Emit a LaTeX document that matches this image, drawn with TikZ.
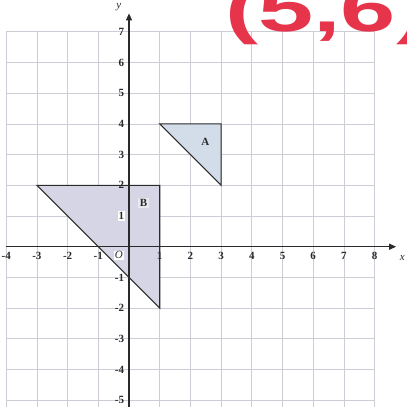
\documentclass[tikz,border=0pt]{standalone}
\usepackage{fontspec}
\setmainfont{Liberation Serif}
\newfontfamily\handfont{Liberation Sans}
\usetikzlibrary{arrows.meta}
\definecolor{gridc}{HTML}{CDCDD6}
\definecolor{fillA}{HTML}{D3DCE9}
\definecolor{fillB}{HTML}{D5D5E5}
\definecolor{inkred}{HTML}{E6344B}
\definecolor{axisc}{HTML}{2A2A2A}
\tikzset{
  gridline/.style={gridc, line width=0.7pt},
  axisline/.style={axisc, line width=1.3pt, -{Triangle[length=7pt,width=6pt]}},
  tri/.style={draw=axisc, line width=1.1pt, line join=miter},
  ticklab/.style={font=\fontsize{11}{12}\selectfont\bfseries, text=axisc, inner sep=1pt},
  shapelab/.style={font=\fontsize{11}{12}\selectfont\bfseries, text=axisc, inner sep=1.5pt},
}
\begin{document}
\begin{tikzpicture}[x=30.7pt,y=30.7pt]
\useasboundingbox (-4.202,-5.221) rectangle (9.023,8.036);
\clip (-4.202,-5.221) rectangle (9.023,8.036);
\fill[white] (-4.202,-5.221) rectangle (9.023,8.036);
% grid
\foreach \i in {-4,...,8} \draw[gridline] (\i,-5.221) -- (\i,7);
\foreach \j in {-5,...,7} \draw[gridline] (-4,\j) -- (8,\j);
% triangles
\fill[fillA] (1,4) -- (3,4) -- (3,2) -- cycle;
\fill[fillB] (-3,2) -- (1,2) -- (1,-2) -- cycle;
\draw[tri] (1,4) -- (3,4) -- (3,2) -- cycle;
\draw[tri] (-3,2) -- (1,2) -- (1,-2) -- cycle;
% axes
\coordinate (xs) at (-4,0);
\coordinate (xe) at (8.7,0);
\coordinate (ys) at (0,-5.221);
\coordinate (ye) at (0,7.6);
\draw[axisline] (xs) -- (xe);
\draw[axisline] (ys) -- (ye);
\node[ticklab, font=\fontsize{11}{12}\selectfont\itshape] (xl) at (8.9,-0.37) {x};
\node[ticklab, font=\fontsize{11}{12}\selectfont\itshape] (yl) at (-0.33,7.8) {y};
% x tick labels
\foreach \i in {-4,-3,-2,-1,1,2,3,4,5,6,7,8}
  \node[ticklab] (xt\i) at (\i,-0.3) {\i};
\node[ticklab, font=\fontsize{11}{12}\selectfont\itshape, fill=white] (org) at (-0.33,-0.28) {O};
% y tick labels
\foreach \j in {7,6,5,4,3,2,-1,-2,-3,-4,-5}
  \node[ticklab, anchor=east] (yt\j) at (-0.12,\j) {\j};
\node[ticklab, anchor=east, fill=white] (yt1) at (-0.12,1) {1};
% shape labels
\node[shapelab] (labA) at (2.49,3.41) {A};
\node[shapelab, fill=white!45!fillB] (labB) at (0.47,1.42) {B};
% handwritten note
\node[inkred, anchor=base west, inner sep=0pt, font=\handfont\bfseries\fontsize{64}{64}\selectfont, xscale=1.55] (note) at (3.12,7.0) {(5,6)};
\end{tikzpicture}
\end{document}
